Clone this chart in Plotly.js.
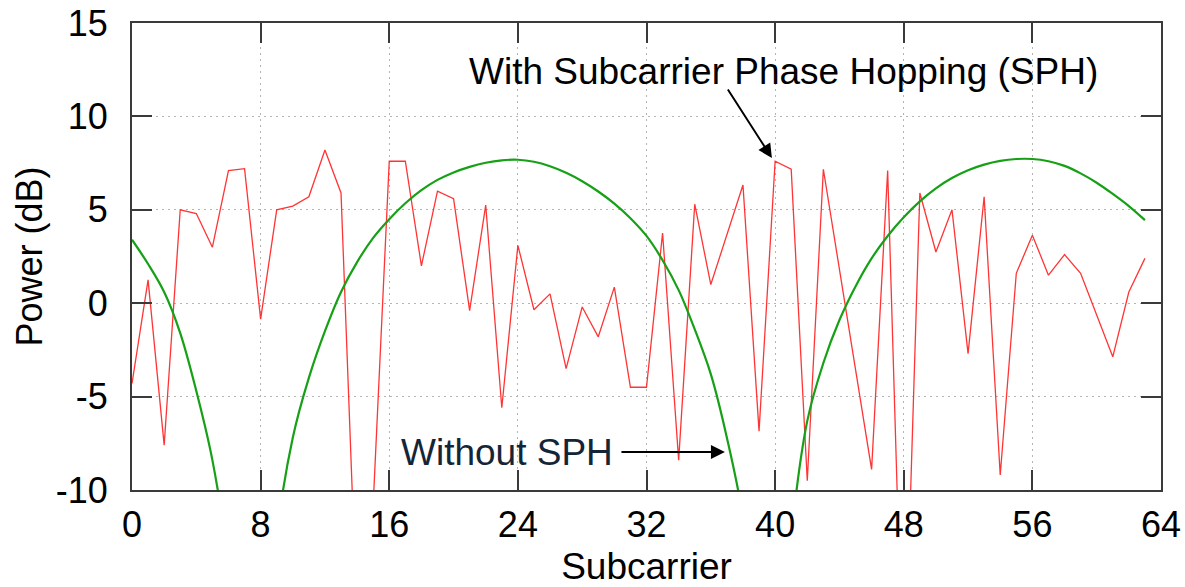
<!DOCTYPE html>
<html>
<head>
<meta charset="utf-8">
<script src="https://cdn.plot.ly/plotly-3.0.1.min.js"></script>
<style>
  html, body { margin: 0; padding: 0; background: #ffffff; }
  #chart { width: 1185px; height: 587px; }
</style>
</head>
<body>
<div id="chart"></div>
<script>
// Subcarrier indices 0..63
const subcarriers = [
  0, 1, 2, 3, 4, 5, 6, 7, 8, 9, 10, 11, 12, 13, 14, 15,
  16, 17, 18, 19, 20, 21, 22, 23, 24, 25, 26, 27, 28, 29, 30, 31,
  32, 33, 34, 35, 36, 37, 38, 39, 40, 41, 42, 43, 44, 45, 46, 47,
  48, 49, 50, 51, 52, 53, 54, 55, 56, 57, 58, 59, 60, 61, 62, 63
];

// With Subcarrier Phase Hopping (SPH), power in dB
const powerWithSPH = [
  -4.3, 1.25, -7.6, 5.0, 4.8, 3.0, 7.1, 7.2, -0.85, 5.0, 5.2, 5.7, 8.2, 5.9, -17.0, -10.8,
  7.6, 7.6, 2.0, 6.0, 5.6, -0.4, 5.25, -5.6, 3.1, -0.35, 0.5, -3.5, -0.2, -1.8, 0.86, -4.5,
  -4.5, 3.76, -8.4, 5.3, 1.0, 3.65, 6.33, -6.85, 7.6, 7.17, -9.5, 7.17, 1.8, -3.55, -8.9, 7.1,
  -22.0, 5.9, 2.74, 5.0, -2.7, 5.7, -9.2, 1.6, 3.64, 1.5, 2.6, 1.6, -0.65, -2.87, 0.6, 2.4
];

// Without SPH, power in dB
const powerWithoutSPH = [
  3.4, 2.1, 0.6, -1.6, -4.7, -8.4, -14.0, -24.0, -25.0, -12.5, -7.2, -4.0, -1.5, 0.6, 2.2, 3.5,
  4.5, 5.35, 6.05, 6.6, 7.0, 7.3, 7.52, 7.65, 7.68, 7.57, 7.33, 6.98, 6.53, 5.98, 5.33, 4.55,
  3.6, 2.3, 0.7, -1.4, -3.8, -7.2, -11.5, -20.0, -24.0, -12.5, -6.3, -3.2, -0.9, 0.9, 2.4, 3.6,
  4.6, 5.45, 6.15, 6.7, 7.12, 7.42, 7.62, 7.72, 7.72, 7.6, 7.35, 6.95, 6.45, 5.85, 5.2, 4.45
];

const xTickVals = [0, 8, 16, 24, 32, 40, 48, 56, 64];
const yTickVals = [-10, -5, 0, 5, 10, 15];

const labelWithSPH = "With Subcarrier Phase Hopping (SPH)";
const labelWithoutSPH = "Without SPH";

const FONT = "'Liberation Sans', Arial, Helvetica, sans-serif";

const traces = [
  {
    x: subcarriers,
    y: powerWithSPH,
    type: "scatter",
    mode: "lines",
    name: labelWithSPH,
    line: { color: "rgba(255,30,30,0.9)", width: 1.3 },
    hoverinfo: "skip"
  },
  {
    x: subcarriers,
    y: powerWithoutSPH,
    type: "scatter",
    mode: "lines",
    name: labelWithoutSPH,
    line: { color: "#16a016", width: 2.2, shape: "spline", smoothing: 1 },
    hoverinfo: "skip"
  }
];

const axisCommon = {
  showline: true,
  linecolor: "#3a3a3a",
  linewidth: 2,
  mirror: "allticks",
  ticks: "inside",
  ticklen: 20,
  tickwidth: 2,
  tickcolor: "#3a3a3a",
  showgrid: true,
  gridcolor: "#b4b4b4",
  gridwidth: 1,
  griddash: "2px,4px",
  zeroline: false,
  tickfont: { family: FONT, size: 36, color: "#000000" },
  fixedrange: true
};

const layout = {
  width: 1185,
  height: 587,
  margin: { l: 132, r: 24, t: 23, b: 97 },
  paper_bgcolor: "#ffffff",
  plot_bgcolor: "#ffffff",
  showlegend: false,
  hovermode: false,
  xaxis: Object.assign({}, axisCommon, {
    range: [0, 64],
    tickmode: "array",
    tickvals: xTickVals,
    ticktext: xTickVals.map(String),
    ticklabelstandoff: 2,
    title: { text: "Subcarrier", font: { family: FONT, size: 37, color: "#000000" }, standoff: 12 },
    automargin: false
  }),
  yaxis: Object.assign({}, axisCommon, {
    range: [-10, 15],
    tickmode: "array",
    tickvals: yTickVals,
    ticktext: yTickVals.map(String),
    ticklabelstandoff: 15,
    title: { text: "Power (dB)", font: { family: FONT, size: 36, color: "#000000" }, standoff: 2 },
    automargin: false
  }),
  annotations: [
    {
      x: 40.49, y: 12.38, xref: "x", yref: "y",
      text: labelWithSPH,
      showarrow: false,
      font: { family: FONT, size: 37, color: "#000000" },
      xanchor: "center", yanchor: "middle"
    },
    {
      x: 39.8, y: 7.77, xref: "x", yref: "y",
      text: "",
      showarrow: true,
      ax: -45, ay: -70,
      arrowhead: 2, arrowsize: 1.4, arrowwidth: 2, arrowcolor: "#000000"
    },
    {
      x: 23.32, y: -7.97, xref: "x", yref: "y",
      text: labelWithoutSPH,
      showarrow: false,
      font: { family: FONT, size: 37, color: "#152538" },
      xanchor: "center", yanchor: "middle"
    },
    {
      x: 36.88, y: -7.97, xref: "x", yref: "y",
      text: "",
      showarrow: true,
      ax: -105, ay: 0,
      arrowhead: 2, arrowsize: 1.4, arrowwidth: 2, arrowcolor: "#000000"
    }
  ]
};

Plotly.newPlot("chart", traces, layout, { displayModeBar: false, staticPlot: true });
</script>
</body>
</html>
